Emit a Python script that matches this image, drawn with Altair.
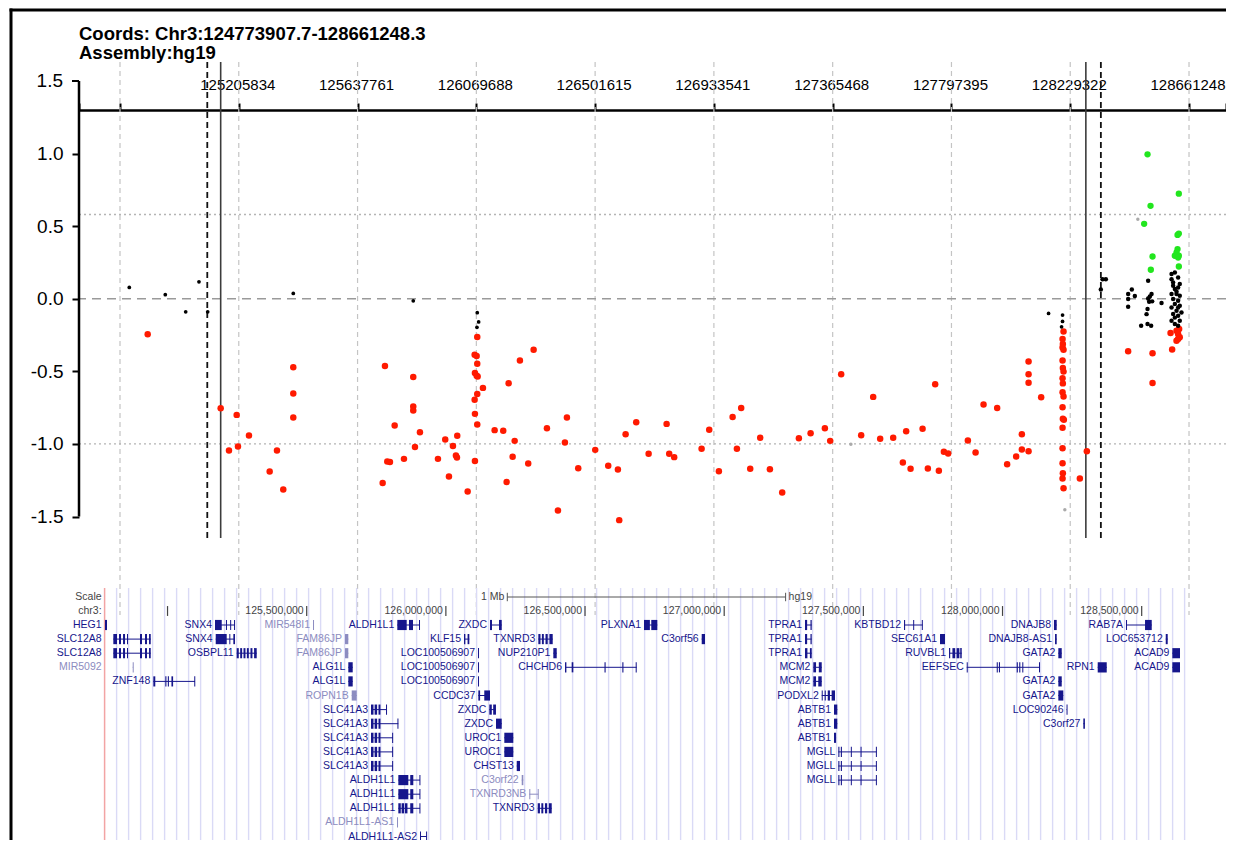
import altair as alt
import numpy as np
import pandas as pd

# ---------------- values ----------------
title_lines = ["Coords: Chr3:124773907.7-128661248.3", "Assembly:hg19"]
tick_labels = [124773908, 125205834, 125637761, 126069688, 126501615,
               126933541, 127365468, 127797395, 128229322, 128661248]
y_ticks = [-1.5, -1.0, -0.5, 0.0, 0.5, 1.0, 1.5]
dotted_refs = [0.58, -1.0]
dashed_refs = [0.0]
vline_solid_mb = [125.1400, 128.2861]
vline_dashed_mb = [125.0913, 128.3407]

# points: (position in Mb, value)
black_pts = [(124.8077, 0.078), (124.9386, 0.028), (125.0128, -0.09), (125.0611, 0.117),
             (125.0928, -0.09), (125.4040, 0.037), (125.8403, -0.014), (126.0730, -0.096),
             (126.0781, -0.16), (126.0719, -0.197), (128.1505, -0.101), (128.2014, -0.112),
             (128.2014, -0.156), (128.1978, -0.193)]
black_right_pts = [(128.3406, 0.064), (128.3468, 0.135), (128.3588, 0.135),
                   (128.4399, 0.032), (128.4399, -0.002), (128.4399, -0.055), (128.4533, 0.064),
                   (128.4642, 0.019), (128.5126, 0.124), (128.5250, 0.032), (128.5188, 0.016),
                   (128.5126, 0.002), (128.5272, -0.018), (128.5162, -0.021), (128.5104, -0.071),
                   (128.5068, -0.106), (128.5104, -0.174), (128.5235, -0.186), (128.4872, -0.186),
                   (128.5613, -0.03),
                   (128.5977, 0.17), (128.6097, 0.181), (128.5977, 0.135), (128.6216, 0.147),
                   (128.6035, 0.112), (128.6276, 0.101), (128.6097, 0.067), (128.6216, 0.078),
                   (128.5977, 0.032), (128.6158, 0.032), (128.6276, 0.021), (128.6035, -0.002),
                   (128.6216, -0.014), (128.6097, -0.036), (128.6276, -0.048), (128.5977, -0.06),
                   (128.6158, -0.083), (128.6338, -0.094), (128.6035, -0.105), (128.6216, -0.117),
                   (128.5977, -0.151), (128.6276, -0.151), (128.6097, -0.174), (128.6216, -0.186),
                   (128.6158, 0.05), (128.6035, 0.09), (128.6216, -0.06), (128.6097, -0.13)]
red_pts = [(124.8746, -0.245), (125.1400, -0.754), (125.1702, -1.045), (125.1982, -0.80),
           (125.2029, -1.018), (125.2429, -0.942), (125.3182, -1.19), (125.3447, -1.045),
           (125.3676, -1.314), (125.4040, -0.472), (125.4040, -0.653), (125.4040, -0.818),
           (125.7374, -0.463), (125.7290, -1.27), (125.7458, -1.121), (125.7556, -1.125),
           (125.7727, -0.873), (125.8065, -1.103), (125.8403, -0.539), (125.8403, -0.743),
           (125.8403, -0.77), (125.8465, -1.022), (125.8646, -0.92),
           (125.9566, -0.97), (126.0003, -0.944), (125.9846, -1.015), (125.9301, -1.103),
           (125.9955, -1.08), (125.9992, -1.094), (125.9701, -1.224), (126.0381, -1.327),
           (126.0730, -0.264), (126.0635, -0.385), (126.0708, -0.394), (126.0730, -0.447),
           (126.0646, -0.511), (126.0708, -0.53), (126.0744, -0.536), (126.0937, -0.614),
           (126.0730, -0.656), (126.0635, -0.695), (126.0646, -0.793), (126.0730, -0.867),
           (126.0646, -1.117),
           (126.1871, -0.582), (126.2282, -0.426), (126.2780, -0.351), (126.1362, -0.905),
           (126.1675, -0.91), (126.2090, -0.979), (126.2017, -1.089), (126.2584, -1.135),
           (126.1799, -1.263),
           (126.3264, -0.892), (126.3991, -0.818), (126.3918, -0.99), (126.3664, -1.458),
           (126.4402, -1.167), (126.5020, -1.041), (126.5493, -1.151), (126.5845, -1.176),
           (126.5893, -1.525), (126.6125, -0.933), (126.6511, -0.851), (126.6962, -1.068),
           (126.7616, -0.862), (126.7710, -1.068), (126.7892, -1.091),
           (126.8888, -1.034), (126.9165, -0.903), (126.9517, -1.188), (127.0016, -0.814),
           (127.0328, -0.752), (127.0172, -1.034), (127.0656, -1.171), (127.1019, -0.958),
           (127.1372, -1.174), (127.1819, -1.334), (127.2426, -0.961), (127.2852, -0.926),
           (127.3371, -0.892), (127.3564, -0.979), (127.3964, -0.52), (127.4691, -0.94),
           (127.5128, -0.676), (127.5382, -0.965), (127.5855, -0.958), (127.6327, -0.913),
           (127.6207, -1.128), (127.6487, -1.171), (127.6924, -0.896), (127.7116, -1.169),
           (127.7382, -0.589), (127.7516, -1.185), (127.7698, -1.054), (127.7854, -1.066),
           (127.8571, -0.977), (127.8851, -1.059), (127.9141, -0.729), (127.9636, -0.752),
           (127.9999, -1.14), (128.0327, -1.087), (128.0534, -0.933), (128.0534, -1.039),
           (128.0778, -1.05), (128.0778, -0.433), (128.0778, -0.52), (128.0778, -0.578),
           (128.1236, -0.679),
           (128.2050, -0.225), (128.2014, -0.277), (128.2025, -0.312), (128.2014, -0.335),
           (128.2050, -0.351), (128.2014, -0.426), (128.2025, -0.477), (128.2050, -0.502),
           (128.2014, -0.548), (128.2025, -0.583), (128.2014, -0.644), (128.2050, -0.674),
           (128.2014, -0.747), (128.2025, -0.827), (128.2061, -0.834), (128.2014, -0.889),
           (128.2014, -1.03), (128.2014, -1.133), (128.2025, -1.202), (128.2014, -1.238),
           (128.2050, -1.305),
           (128.2643, -1.238), (128.2897, -1.05),
           (128.4399, -0.362), (128.5286, -0.376), (128.5286, -0.58), (128.5999, -0.349),
           (128.5941, -0.236), (128.6158, -0.22), (128.6253, -0.209), (128.6216, -0.243),
           (128.6276, -0.266), (128.6158, -0.289), (128.6216, -0.277)]
green_pts = [(128.5104, 0.995), (128.6242, 0.724), (128.5213, 0.64), (128.4981, 0.516),
             (128.6242, 0.449), (128.6195, 0.44), (128.6195, 0.342), (128.6158, 0.319),
             (128.6242, 0.296), (128.6097, 0.296), (128.6216, 0.284), (128.5286, 0.291),
             (128.5224, 0.2), (128.6242, 0.222)]
gray_pts = [(127.4317, -1.002), (128.2097, -1.454), (128.4751, 0.548)]

# ---------------- gene track (UCSC style) ----------------
window_mb = [124.7739, 128.6612]
scale_bar_mb = [126.2207, 127.2207]
chr_ticks_mb = [125.0, 125.5, 126.0, 126.5, 127.0, 127.5, 128.0, 128.5]
chr_tick_text = ["", "125,500,000", "126,000,000", "126,500,000", "127,000,000",
                 "127,500,000", "128,000,000", "128,500,000"]
noncoding = {"MIR548I1", "FAM86JP", "MIR5092", "ROPN1B", "C3orf22", "TXNRD3NB", "ALDH1L1-AS1"}

SLC12A8_EX = [(124.8052, 124.8185), (124.8257, 124.8329), (124.8401, 124.8473), (124.8544, 124.8580),
              (124.9011, 124.9083), (124.9191, 124.9263), (124.9335, 124.9396)]
TPRA1_EX = [(127.2904, 127.2980), (127.3100, 127.3145)]
FAM86JP_EX = [(125.6377, 125.6495)]
LOC_EX = [(126.1155, 126.1175)]
ALG1L_EX = [(125.6495, 125.6653)]
GATA2_EX = [(128.2005, 128.2127)]
ACAD9_EX = [(128.6101, 128.6377)]
SLC41A3_EX = [(125.7311, 125.7400), (125.7440, 125.7530), (125.7580, 125.7650), (125.8070, 125.8101)]
UROC1_EX = [(126.2100, 126.2423)]
ABTB1_EX = [(127.3946, 127.4064)]
MGLL_EX = [(127.4100, 127.4140), (127.4190, 127.4230), (127.4550, 127.4580), (127.4900, 127.4930),
           (127.5450, 127.5480)]
ALDH1L1_EX = [(125.8292, 125.8651), (125.8720, 125.8830), (125.9050, 125.9071)]

gene_names = ["HEG1", "SNX4", "MIR548I1", "ALDH1L1", "ZXDC", "PLXNA1", "TPRA1", "KBTBD12", "DNAJB8", "RAB7A",
              "SLC12A8", "SNX4", "FAM86JP", "KLF15", "TXNRD3", "C3orf56", "TPRA1", "SEC61A1", "DNAJB8-AS1", "LOC653712",
              "SLC12A8", "OSBPL11", "FAM86JP", "LOC100506907", "NUP210P1", "TPRA1", "RUVBL1", "GATA2", "ACAD9",
              "MIR5092", "ALG1L", "LOC100506907", "CHCHD6", "MCM2", "EEFSEC", "RPN1", "ACAD9",
              "ZNF148", "ALG1L", "LOC100506907", "MCM2", "GATA2",
              "ROPN1B", "CCDC37", "PODXL2", "GATA2",
              "SLC41A3", "ZXDC", "ABTB1", "LOC90246",
              "SLC41A3", "ZXDC", "ABTB1", "C3orf27",
              "SLC41A3", "UROC1", "ABTB1",
              "SLC41A3", "UROC1", "MGLL",
              "SLC41A3", "CHST13", "MGLL",
              "ALDH1L1", "C3orf22", "MGLL",
              "ALDH1L1", "TXNRD3NB",
              "ALDH1L1", "TXNRD3",
              "ALDH1L1-AS1",
              "ALDH1L1-AS2"]
gene_rows = [0] * 10 + [1] * 10 + [2] * 9 + [3] * 8 + [4] * 5 + [5] * 4 + [6] * 4 + [7] * 4 + \
            [8] * 3 + [9] * 3 + [10] * 3 + [11] * 3 + [12] * 2 + [13] * 2 + [14] + [15]
gene_exons = [
    [(124.7753, 124.7825)],
    [(125.1706, 125.1947), (125.2100, 125.2130), (125.2250, 125.2280), (125.2390, 125.2424)],
    [(125.5227, 125.5237)],
    [(125.8255, 125.8593), (125.8675, 125.8820), (125.9035, 125.9071)],
    [(126.1586, 126.1658), (126.1910, 126.2007)],
    [(126.7119, 126.7330), (126.7380, 126.7597)],
    TPRA1_EX,
    [(127.6461, 127.6500), (127.6790, 127.6820), (127.7100, 127.7133)],
    [(128.1850, 128.1947)],
    [(128.4437, 128.4470), (128.5120, 128.5361)],
    # row 1
    SLC12A8_EX,
    [(125.1731, 125.2126), (125.2220, 125.2256), (125.2364, 125.2424)],
    FAM86JP_EX,
    [(126.0652, 126.0700), (126.0780, 126.0843)],
    [(126.3322, 126.3400), (126.3450, 126.3520), (126.3580, 126.3660), (126.3720, 126.3839)],
    [(126.9192, 126.9311)],
    TPRA1_EX,
    [(127.7754, 127.7934)],
    [(128.1886, 128.1947)],
    [(128.5864, 128.5935)],
    # row 2
    SLC12A8_EX,
    [(125.2485, 125.2560), (125.2610, 125.2680), (125.2730, 125.2800), (125.2850, 125.2920),
     (125.2980, 125.3050), (125.3110, 125.3204)],
    FAM86JP_EX,
    LOC_EX,
    [(126.3861, 126.3983)],
    [(127.2904, 127.2990), (127.3080, 127.3145)],
    [(127.8078, 127.8120), (127.8200, 127.8300), (127.8350, 127.8450), (127.8480, 127.8534)],
    GATA2_EX,
    ACAD9_EX,
    # row 3
    [(124.8749, 124.8765)],
    ALG1L_EX,
    LOC_EX,
    [(126.4281, 126.4330), (126.4520, 126.4580), (126.5700, 126.5740), (126.6340, 126.6380),
     (126.6820, 126.6857)],
    [(127.3202, 127.3300), (127.3400, 127.3504)],
    [(127.8714, 127.8750), (127.9792, 127.9830), (127.9870, 127.9910), (128.0510, 128.0550),
     (128.0600, 128.0640), (128.0710, 128.0747), (128.1310, 128.1347)],
    [(128.3420, 128.3744)],
    ACAD9_EX,
    # row 4
    [(124.9489, 124.9560), (124.9920, 124.9960), (125.0010, 125.0050), (125.0140, 125.0200),
     (125.0960, 125.0987)],
    ALG1L_EX,
    LOC_EX,
    [(127.3202, 127.3300), (127.3380, 127.3504)],
    GATA2_EX,
    # row 5
    [(125.6617, 125.6797)],
    [(126.1166, 126.1230), (126.1380, 126.1586)],
    [(127.3504, 127.3540), (127.3610, 127.3650), (127.3720, 127.3800), (127.3860, 127.3982)],
    [(128.2005, 128.2184)],
    # row 6
    [(125.7311, 125.7400), (125.7440, 125.7530), (125.7580, 125.7650), (125.7850, 125.7875)],
    [(126.1561, 126.1650), (126.1700, 126.1800)],
    ABTB1_EX,
    [(128.2300, 128.2315)],
    # row 7
    [(125.7311, 125.7400), (125.7440, 125.7530), (125.7580, 125.7650), (125.8260, 125.8292)],
    [(126.1802, 126.2007)],
    ABTB1_EX,
    [(128.2903, 128.2960)],
    # row 8
    SLC41A3_EX, UROC1_EX, [(127.3946, 127.4020)],
    # row 9
    SLC41A3_EX, UROC1_EX, MGLL_EX,
    # row 10
    SLC41A3_EX, [(126.2546, 126.2664)], MGLL_EX,
    # row 11
    ALDH1L1_EX, [(126.2725, 126.2783)], MGLL_EX,
    # row 12
    ALDH1L1_EX, [(126.2998, 126.3020), (126.3300, 126.3322)],
    # row 13
    [(125.8292, 125.8380), (125.8410, 125.8500), (125.8530, 125.8620), (125.8720, 125.8830),
     (125.9050, 125.9071)],
    [(126.3300, 126.3380), (126.3430, 126.3500), (126.3560, 126.3640), (126.3700, 126.3803)],
    # row 14
    [(125.8245, 125.8260)],
    # row 15
    [(125.9071, 125.9090), (125.9290, 125.9312)],
]

# ---------------- layout (page pixels) ----------------
PAGE_L, PAGE_R, PAGE_T, PAGE_B = 79, 1226, 110, 838
W, H = PAGE_R - PAGE_L, PAGE_B - PAGE_T

# top plot: first tick gridline at page x 120, 118.78 px between ticks; 1.5 at y 81, -1.5 at y 516.5
step_bp = (tick_labels[-1] - tick_labels[0]) / 9.0
px_per_bp = 118.78 / step_bp
x0 = tick_labels[0] - (120 - PAGE_L) / px_per_bp
x1 = x0 + W / px_per_bp
py_per_unit = (516.5 - 81) / 3.0
y_top = 1.5 - (PAGE_T - 81) / py_per_unit
y_bot = y_top - H / py_per_unit


def val_at(page_y):
    return 1.5 - (page_y - 81) / py_per_unit


# gene panel: 125.5 Mb at page x 306.7, 278.33 px per Mb; row r at page y 625 + 14.1 r
PX_PER_MB = 278.33
g0 = 125.5 + (PAGE_L - 306.7) / PX_PER_MB
g1 = 125.5 + (PAGE_R - 306.7) / PX_PER_MB
ROW_PX = 14.1
r_a = -(625 - PAGE_T) / ROW_PX
r_b = r_a + H / ROW_PX


def row_at(page_y):
    return (page_y - 625) / ROW_PX


XS = alt.Scale(domain=[x0, x1], nice=False, zero=False)
YS = alt.Scale(domain=[y_bot, y_top], nice=False, zero=False)
GXS = alt.Scale(domain=[g0, g1], nice=False, zero=False)
GYS = alt.Scale(domain=[r_a, r_b], nice=False, zero=False, reverse=True)

FONT = "Liberation Sans"
x_axis = alt.Axis(orient="top", values=[x0] + tick_labels + [x1],
                  labelExpr="(datum.value < 125000000 || datum.value > 128700000) ? '' : format(datum.value, 'd')",
                  tickSize=7, tickWidth=2, tickColor="black", domainColor="black", domainWidth=2.5,
                  labelFontSize=15, labelFont=FONT, labelColor="black", labelPadding=11,
                  labelOffset=-1.5,
                  labelOverlap=False, labelFlush=False, labelBound=False, grid=False, title=None)
y_axis = alt.Axis(values=y_ticks,
                  labelExpr="(datum.value < 0 ? '-' : '') + format(abs(datum.value), '.1f')",
                  tickSize=7, tickWidth=2, tickColor="black", domain=False,
                  labelFontSize=19, labelFont=FONT, labelColor="black", labelPadding=9,
                  grid=False, title=None)


def sx(f):
    return alt.X(f"{f}:Q", scale=XS, axis=x_axis)


def sy(f):
    return alt.Y(f"{f}:Q", scale=YS, axis=y_axis)


def gx(f):
    return alt.X(f"{f}:Q", scale=GXS, axis=None)


def gy(f):
    return alt.Y(f"{f}:Q", scale=GYS, axis=None)


def pts_df(pts):
    return pd.DataFrame({"pos": [p[0] * 1e6 for p in pts], "val": [p[1] for p in pts]})


# ---------------- scatter group ----------------
grid_df = pd.DataFrame({"pos": tick_labels, "ytop": val_at(62), "ybot": val_at(615)})
vs_df = pd.DataFrame({"pos": [m * 1e6 for m in vline_solid_mb], "ytop": val_at(62), "ybot": val_at(538)})
vd_df = pd.DataFrame({"pos": [m * 1e6 for m in vline_dashed_mb], "ytop": val_at(62), "ybot": val_at(538)})
yaxis_df = pd.DataFrame({"ytop": [max(y_ticks)], "ybot": [min(y_ticks)]})
# the top y tick sits above the x axis line, outside the view; drawn by hand
top_tick_df = pd.DataFrame({"val": [max(y_ticks)], "lab": [f"{max(y_ticks):.1f}"]})

scatter_layers = [
    alt.Chart(grid_df).mark_rule(color="#c4c4c4", strokeWidth=1.2, strokeDash=[5, 4]).encode(
        x=sx("pos"), y=sy("ytop"), y2=alt.Y2("ybot")),
    alt.Chart(pd.DataFrame({"val": dotted_refs})).mark_rule(
        color="#b4b4b4", strokeWidth=1.4, strokeDash=[2, 3]).encode(y=sy("val")),
    alt.Chart(pd.DataFrame({"val": dashed_refs})).mark_rule(
        color="#9a9a9a", strokeWidth=1.4, strokeDash=[9, 6]).encode(y=sy("val")),
    alt.Chart(vs_df).mark_rule(color="#3c3c3c", strokeWidth=1.6).encode(
        x=sx("pos"), y=sy("ytop"), y2=alt.Y2("ybot")),
    alt.Chart(vd_df).mark_rule(color="#111111", strokeWidth=1.8, strokeDash=[6, 4]).encode(
        x=sx("pos"), y=sy("ytop"), y2=alt.Y2("ybot")),
    alt.Chart(yaxis_df).mark_rule(color="black", strokeWidth=2.5).encode(
        x=alt.value(0), y=sy("ytop"), y2=alt.Y2("ybot")),
    alt.Chart(top_tick_df).mark_rule(color="black", strokeWidth=2).encode(
        x=alt.value(-7), x2=alt.value(0), y=sy("val")),
    alt.Chart(top_tick_df).mark_text(align="right", baseline="middle", fontSize=19, font=FONT,
                                     color="black").encode(
        x=alt.value(-16), y=sy("val"), text="lab:N"),
    alt.Chart(pts_df(red_pts)).mark_circle(size=42, color="#ff1a00", opacity=1).encode(
        x=sx("pos"), y=sy("val")),
    alt.Chart(pts_df(black_pts)).mark_circle(size=14, color="black", opacity=1).encode(
        x=sx("pos"), y=sy("val")),
    alt.Chart(pts_df(black_right_pts)).mark_circle(size=20, color="black", opacity=1).encode(
        x=sx("pos"), y=sy("val")),
    alt.Chart(pts_df(green_pts)).mark_circle(size=40, color="#22e61e", opacity=1).encode(
        x=sx("pos"), y=sy("val")),
    alt.Chart(pts_df(gray_pts)).mark_circle(size=12, color="#aaaaaa", opacity=1).encode(
        x=sx("pos"), y=sy("val")),
]
scatter = alt.layer(*scatter_layers)

# ---------------- gene group ----------------
NAVY = "#16168c"
LIGHT = "#8c8cc0"
kind_scale = alt.Scale(domain=["coding", "noncoding"], range=[NAVY, LIGHT])
char_mb = 6.2 / PX_PER_MB
min_mb = 1.0 / PX_PER_MB

genes = []
exons = []
for name, row, ex in zip(gene_names, gene_rows, gene_exons):
    kind = "noncoding" if name in noncoding else "coding"
    s = min(e[0] for e in ex)
    e_ = max(e[1] for e in ex)
    lx = s if s - len(name) * char_mb - 4 / PX_PER_MB > window_mb[0] else window_mb[0]
    genes.append({"name": name, "row": row, "kind": kind, "s": s, "e": e_, "lx": lx})
    for a, b in ex:
        exons.append({"row": row, "kind": kind, "s": a, "e": max(b, a + min_mb),
                      "y0": row - 0.36, "y1": row + 0.36})
genes_df = pd.DataFrame(genes)
exons_df = pd.DataFrame(exons)

step_mb = 12 / PX_PER_MB
stripe_df = pd.DataFrame({"gx": np.arange(window_mb[0] + step_mb, window_mb[1], step_mb),
                          "r0": row_at(588), "r1": row_at(846)})
edge_df = pd.DataFrame({"gx": [window_mb[0]], "r0": row_at(588), "r1": row_at(846)})
scale_row, chr_row = row_at(597), row_at(611)
bar_df = pd.DataFrame({"s": [scale_bar_mb[0]], "e": [scale_bar_mb[1]], "row": [scale_row]})
bar_ticks_df = pd.DataFrame({"gx": scale_bar_mb, "r0": scale_row - 0.3, "r1": scale_row + 0.3})
chr_ticks_df = pd.DataFrame({"gx": chr_ticks_mb, "r0": chr_row - 0.35, "r1": chr_row + 0.35})
right_text_df = pd.DataFrame({
    "gx": [window_mb[0], window_mb[0], scale_bar_mb[0]] + chr_ticks_mb,
    "row": [scale_row, chr_row, scale_row] + [chr_row] * len(chr_ticks_mb),
    "t": ["Scale", "chr3:", "1 Mb"] + chr_tick_text,
})
left_text_df = pd.DataFrame({"gx": [scale_bar_mb[1]], "row": [scale_row], "t": ["hg19"]})
one = pd.DataFrame({"t": title_lines[:1]})
two = pd.DataFrame({"t": title_lines[1:]})

GFS = 10.5
gene_layers = [
    alt.Chart(stripe_df).mark_rule(color="#dadaf6", strokeWidth=1.4).encode(
        x=gx("gx"), y=gy("r0"), y2=alt.Y2("r1")),
    alt.Chart(edge_df).mark_rule(color="#f2a4a4", strokeWidth=1.5).encode(
        x=gx("gx"), y=gy("r0"), y2=alt.Y2("r1")),
    alt.Chart(bar_df).mark_rule(color="#555555", strokeWidth=1).encode(
        x=gx("s"), x2=alt.X2("e"), y=gy("row")),
    alt.Chart(bar_ticks_df).mark_rule(color="#555555", strokeWidth=1).encode(
        x=gx("gx"), y=gy("r0"), y2=alt.Y2("r1")),
    alt.Chart(chr_ticks_df).mark_rule(color="#444444", strokeWidth=1.2).encode(
        x=gx("gx"), y=gy("r0"), y2=alt.Y2("r1")),
    alt.Chart(right_text_df).mark_text(align="right", baseline="middle", dx=-3, fontSize=GFS,
                                       font=FONT, color="#444444").encode(
        x=gx("gx"), y=gy("row"), text="t:N"),
    alt.Chart(left_text_df).mark_text(align="left", baseline="middle", dx=3, fontSize=GFS,
                                      font=FONT, color="#444444").encode(
        x=gx("gx"), y=gy("row"), text="t:N"),
    alt.Chart(genes_df).mark_rule(strokeWidth=1).encode(
        x=gx("s"), x2=alt.X2("e"), y=gy("row"),
        color=alt.Color("kind:N", scale=kind_scale, legend=None)),
    alt.Chart(exons_df).mark_rect().encode(
        x=gx("s"), x2=alt.X2("e"), y=gy("y0"), y2=alt.Y2("y1"),
        color=alt.Color("kind:N", scale=kind_scale, legend=None)),
    alt.Chart(genes_df).mark_text(align="right", baseline="middle", dx=-3, fontSize=GFS,
                                  font=FONT).encode(
        x=gx("lx"), y=gy("row"), text="name:N",
        color=alt.Color("kind:N", scale=kind_scale, legend=None)),
    # frame border and header text
    alt.Chart(one).mark_rule(color="black", strokeWidth=3).encode(
        x=alt.value(-68), y=alt.value(-101.5), y2=alt.value(H + 20)),
    alt.Chart(one).mark_rule(color="black", strokeWidth=3).encode(
        x=alt.value(-69.5), x2=alt.value(W + 10), y=alt.value(-100)),
    alt.Chart(one).mark_text(align="left", baseline="middle", fontSize=18.5, fontWeight="bold",
                             font=FONT, color="black").encode(
        x=alt.value(0), y=alt.value(-76), text="t:N"),
    alt.Chart(two).mark_text(align="left", baseline="middle", fontSize=18.5, fontWeight="bold",
                             font=FONT, color="black").encode(
        x=alt.value(0), y=alt.value(-57), text="t:N"),
]
genes_chart = alt.layer(*gene_layers)

chart = alt.layer(scatter, genes_chart).resolve_scale(
    x="independent", y="independent", color="independent"
).properties(
    width=W, height=H,
    autosize=alt.AutoSizeParams(type="none"),
    padding={"left": PAGE_L - 8, "top": PAGE_T - 8, "right": 0, "bottom": 2},
    background="white",
).configure_view(stroke=None)

chart.save("out.html", embed_options={"renderer": "svg", "actions": False})
